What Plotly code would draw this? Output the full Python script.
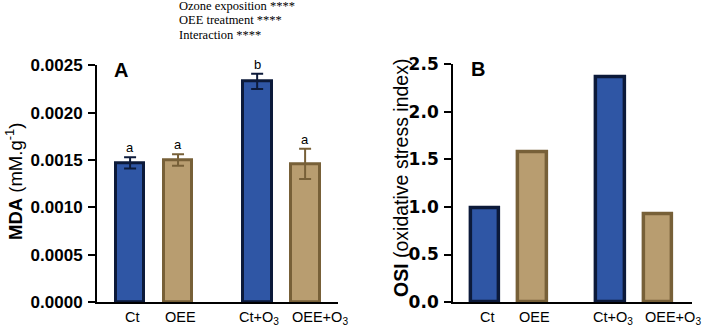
import plotly.graph_objects as go

categories = ["Ct", "OEE", "Ct+O<sub>3</sub>", "OEE+O<sub>3</sub>"]
mda_values = [0.00147, 0.00150, 0.00233, 0.00146]
mda_errors = [0.00006, 0.00006, 0.00008, 0.00016]
mda_letters = ["a", "a", "b", "a"]
osi_values = [0.99, 1.57, 2.36, 0.92]
mda_ticks = [0.0, 0.0005, 0.0010, 0.0015, 0.0020, 0.0025]
mda_ticktext = ["0.0000", "0.0005", "0.0010", "0.0015", "0.0020", "0.0025"]
osi_ticks = [0.0, 0.5, 1.0, 1.5, 2.0, 2.5]
osi_ticktext = ["0.0", "0.5", "1.0", "1.5", "2.0", "2.5"]
stats_lines = ["Ozone exposition ****", "OEE treatment ****", "Interaction ****"]

# layout: positions of the grouped bars and label nudges (px)
x_pos = [0, 1, 2.65, 3.65]
label_shift = [2, 2, 2, 15]

blue_fill = "#2F56A5"
blue_line = "#0C1A3A"
tan_fill = "#B89D70"
tan_line = "#776038"
fills = [blue_fill, tan_fill, blue_fill, tan_fill]
lines = [blue_line, tan_line, blue_line, tan_line]

fig = go.Figure()

for i in range(4):
    fig.add_trace(go.Bar(
        x=[x_pos[i]], y=[mda_values[i]], width=0.6,
        marker=dict(color=fills[i], line=dict(color=lines[i], width=3)),
        error_y=dict(type="data", array=[mda_errors[i]], color=lines[i],
                     thickness=2, width=6),
        xaxis="x", yaxis="y", showlegend=False,
    ))
    fig.add_trace(go.Bar(
        x=[x_pos[i]], y=[osi_values[i]], width=0.6,
        marker=dict(color=fills[i], line=dict(color=lines[i], width=3.5)),
        xaxis="x2", yaxis="y2", showlegend=False,
    ))

tickfontA = dict(family="Liberation Sans, Arial", size=17, color="black", weight="bold")
tickfontB = dict(family="DejaVu Sans", size=17, color="black", weight="bold")
catfont = dict(family="Liberation Sans, Arial", size=14.5, color="black")

common_x = dict(tickmode="array", tickvals=x_pos, showticklabels=False,
                showline=True, linecolor="black", linewidth=2, ticks="",
                showgrid=False, zeroline=False, automargin=False)
common_y = dict(showline=True, linecolor="black", linewidth=2, ticks="outside",
                ticklen=7, tickwidth=2, tickcolor="black", showgrid=False,
                zeroline=False, tickmode="array", automargin=False,
                ticklabelstandoff=2)

fig.update_layout(
    width=708, height=328,
    margin=dict(l=0, r=0, t=0, b=0, autoexpand=False),
    plot_bgcolor="white", paper_bgcolor="white",
    bargap=0,
    xaxis=dict(domain=[0.137, 0.477], range=[-0.69, 4.33], anchor="y", **common_x),
    yaxis=dict(domain=[0.079, 0.801], range=[0, 0.0025], anchor="x",
               tickvals=mda_ticks, ticktext=mda_ticktext, tickfont=tickfontA, **common_y),
    xaxis2=dict(domain=[0.640, 0.977], range=[-0.674, 4.358], anchor="y2", **common_x),
    yaxis2=dict(domain=[0.079, 0.804], range=[0, 2.5], anchor="x2",
                tickvals=osi_ticks, ticktext=osi_ticktext, tickfont=tickfontB, **common_y),
)

annotations = []
for i in range(4):
    annotations.append(dict(
        x=x_pos[i], y=mda_values[i] + mda_errors[i], xref="x", yref="y",
        text=mda_letters[i], showarrow=False, yanchor="bottom", yshift=0,
        font=dict(family="Liberation Sans, Arial", size=13, color="black")))
    for xr, yr in (("x", "y"), ("x2", "y2")):
        annotations.append(dict(
            x=x_pos[i], y=0, xref=xr, yref=yr, text=categories[i], showarrow=False,
            xanchor="center", yanchor="top", xshift=label_shift[i], yshift=-5,
            font=catfont))

for j, line in enumerate(stats_lines):
    annotations.append(dict(
        x=177 / 708, y=1 - (6 + 14.3 * j) / 328, xref="paper", yref="paper",
        text=line, showarrow=False, xanchor="left", yanchor="middle",
        font=dict(family="Liberation Serif, Times New Roman", size=12.5, color="black")))

annotations.append(dict(x=120.5 / 708, y=1 - 70 / 328, xref="paper", yref="paper",
                        text="<b>A</b>", showarrow=False, xanchor="center", yanchor="middle",
                        font=dict(family="Liberation Sans, Arial", size=20, color="black")))
annotations.append(dict(x=477.5 / 708, y=1 - 69 / 328, xref="paper", yref="paper",
                        text="<b>B</b>", showarrow=False, xanchor="center", yanchor="middle",
                        font=dict(family="Liberation Sans, Arial", size=20, color="black")))

annotations.append(dict(x=14 / 708, y=1 - 182 / 328, xref="paper", yref="paper",
                        text="<b>MDA</b> (mM.g<sup>-1</sup>)", showarrow=False, textangle=-90,
                        xanchor="center", yanchor="middle",
                        font=dict(family="Liberation Sans, Arial", size=18.5, color="black")))
annotations.append(dict(x=401 / 708, y=1 - 178 / 328, xref="paper", yref="paper",
                        text="<b>OSI</b> (oxidative stress index)", showarrow=False, textangle=-90,
                        xanchor="center", yanchor="middle",
                        font=dict(family="Liberation Sans, Arial", size=19.5, color="black")))

fig.update_layout(annotations=annotations)
fig.write_html("out.html", config={"displayModeBar": False},
               post_script="document.body.style.margin='0';")
